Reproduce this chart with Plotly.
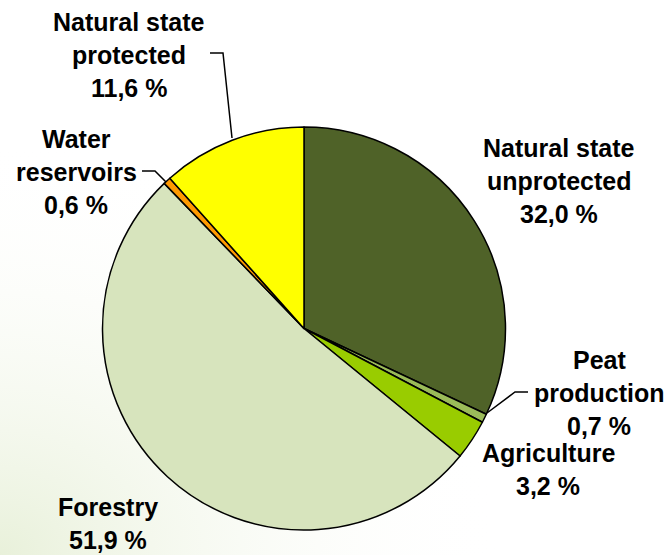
import base64
import plotly.graph_objects as go

categories = ["Natural state unprotected", "Peat production", "Agriculture",
              "Forestry", "Water reservoirs", "Natural state protected"]
values = [32.0, 0.7, 3.2, 51.9, 0.6, 11.6]
label_lines = [["Natural state", "unprotected"], ["Peat", "production"], ["Agriculture"],
               ["Forestry"], ["Water", "reservoirs"], ["Natural state", "protected"]]
colors = ["#4F6228", "#9BBB59", "#99CC00", "#D7E4BD", "#FF9900", "#FFFF00"]

W, H = 672, 555

def px(x):
    return x / W

def py(y):
    return 1 - y / H

cx, cy, r = 304, 328.5, 201.5

fig = go.Figure(go.Pie(
    labels=categories, values=values, sort=False, direction="clockwise", rotation=0,
    marker=dict(colors=colors, line=dict(color="black", width=1.5)),
    textinfo="none", hoverinfo="label+percent", showlegend=False,
    domain=dict(x=[px(cx - r), px(cx + r)], y=[py(cy + r), py(cy - r)]),
))

# label anchor positions (pixel): center x, first-line center y
label_pos = [(559, 148), (599, 360), (548, 453), (108, 507), (76, 139), (129, 22)]
line_gap = 33

annotations = []
for lines, val, (x0, y0) in zip(label_lines, values, label_pos):
    texts = lines + [f"{val:.1f}".replace(".", ",") + " %"]
    for i, t in enumerate(texts):
        annotations.append(dict(
            x=px(x0), y=py(y0 + i * line_gap), xref="paper", yref="paper",
            text=f"<b>{t}</b>", showarrow=False, xanchor="center", yanchor="middle",
            font=dict(family="Liberation Sans, Arial", size=25, color="black")))

leaders = [
    [(210, 53), (223, 53), (232, 138)],
    [(142, 171), (155, 171), (166, 182)],
    [(528, 392), (515, 392), (487, 413)],
]
shapes = []
for pts in leaders:
    path = "M " + " L ".join(f"{px(x)},{py(y)}" for x, y in pts)
    shapes.append(dict(type="path", path=path, xref="paper", yref="paper",
                       line=dict(color="black", width=1.5)))

# faint greenish background glow in the lower-left corner
svg = (
    f'<svg xmlns="http://www.w3.org/2000/svg" width="{W}" height="{H}">'
    '<defs><radialGradient id="g" cx="0" cy="1" r="0.75">'
    '<stop offset="0" stop-color="#E6EFD6" stop-opacity="0.9"/>'
    '<stop offset="1" stop-color="#FFFFFF" stop-opacity="0"/>'
    '</radialGradient></defs>'
    f'<rect width="{W}" height="{H}" fill="url(#g)"/></svg>'
)
bg_uri = "data:image/svg+xml;base64," + base64.b64encode(svg.encode()).decode()

fig.update_layout(
    width=W, height=H, margin=dict(l=0, r=0, t=0, b=0),
    paper_bgcolor="white", plot_bgcolor="white",
    annotations=annotations, shapes=shapes,
    images=[dict(source=bg_uri, xref="paper", yref="paper", x=0, y=1,
                 sizex=1, sizey=1, xanchor="left", yanchor="top",
                 sizing="stretch", layer="below")],
)

fig.write_html("out.html", config={"displayModeBar": False},
               post_script="document.body.style.margin='0';document.body.style.overflow='hidden';")
